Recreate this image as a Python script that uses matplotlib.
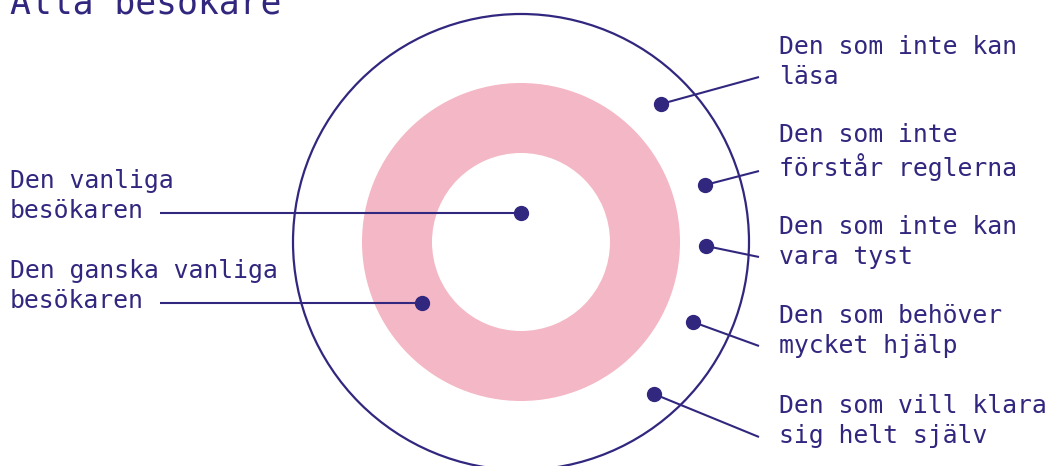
import matplotlib.pyplot as plt
from matplotlib.patches import Circle, Wedge

plt.rcParams["font.family"] = ["DejaVu Sans Mono"]

navy = "#31277f"
pink = "#f4b7c5"

title = "Alla besökare"

# center of the diagram and radii, in pixels
center = (521, 242)
outer_r = 228
ring_outer = 159
ring_inner = 89

left_labels = ["Den vanliga\nbesökaren", "Den ganska vanliga\nbesökaren"]
left_dot_x = [521, 422]
left_dot_y = [213, 303]
left_text_y = [196, 286]

right_labels = [
    "Den som inte kan\nläsa",
    "Den som inte\nförstår reglerna",
    "Den som inte kan\nvara tyst",
    "Den som behöver\nmycket hjälp",
    "Den som vill klara\nsig helt själv",
]
right_dot_x = [661, 705, 706, 693, 654]
right_dot_y = [104, 185, 246, 322, 394]
right_line_y = [77, 171, 257, 346, 437]
right_text_y = [62, 152, 242, 331, 421]

fig = plt.figure(figsize=(10.49, 4.66), dpi=100)
ax = fig.add_axes([0, 0, 1, 1])
ax.set_xlim(0, 1049)
ax.set_ylim(466, 0)
ax.set_aspect("equal")
ax.axis("off")

ax.add_patch(Wedge(center, ring_outer, 0, 360, width=ring_outer - ring_inner,
                   facecolor=pink, edgecolor="none"))
ax.add_patch(Circle(center, outer_r, facecolor="none", edgecolor=navy, lw=1.6))

for lab, dx, dy, ty in zip(left_labels, left_dot_x, left_dot_y, left_text_y):
    ax.plot([160, dx], [dy, dy], color=navy, lw=1.5, solid_capstyle="butt")
    ax.plot(dx, dy, "o", color=navy, ms=10)
    ax.text(10, ty, lab, color=navy, fontsize=17.8, ha="left", va="center",
            linespacing=1.3)

for lab, dx, dy, ly, ty in zip(right_labels, right_dot_x, right_dot_y,
                               right_line_y, right_text_y):
    ax.plot([dx, 759], [dy, ly], color=navy, lw=1.5, solid_capstyle="butt")
    ax.plot(dx, dy, "o", color=navy, ms=10)
    ax.text(779, ty, lab, color=navy, fontsize=17.8, ha="left", va="center",
            linespacing=1.3)

# the title sits partly above the top edge, as in the source
ax.text(10, 13, title, color=navy, fontsize=25, ha="left", va="baseline")

fig.savefig("out.png", dpi=100)
